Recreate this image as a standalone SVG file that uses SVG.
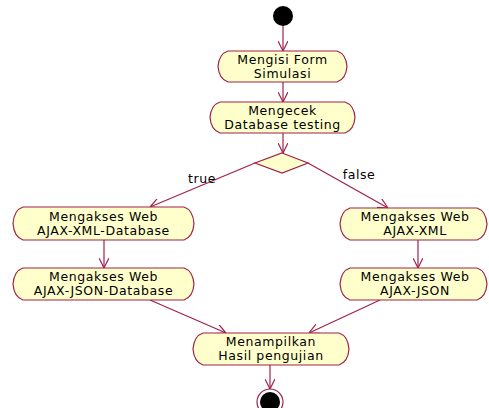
<svg xmlns="http://www.w3.org/2000/svg" width="489" height="408" viewBox="0 0 489 408">
<style>
.node{fill:#ffffcc;stroke:#a0204a;stroke-width:1.2}
.t{font-family:"DejaVu Sans",sans-serif;font-size:12.5px;letter-spacing:0.6px;fill:#000;text-anchor:middle}
.c{stroke:#a0204a;stroke-width:1.2;fill:none;marker-end:url(#ah)}
</style>
<defs>
<marker id="ah" viewBox="0 0 10 10" refX="10" refY="5" markerWidth="10" markerHeight="10" markerUnits="userSpaceOnUse" orient="auto">
<path d="M0,0 L10,5 L0,10" fill="none" stroke="#a0204a" stroke-width="1.2"/>
</marker>
</defs>
<rect width="489" height="408" fill="#fff"/>
<g id="connectors">
<line class="c" x1="283" y1="26" x2="283" y2="51"/>
<line class="c" x1="283" y1="82" x2="283" y2="102"/>
<line class="c" x1="283" y1="133" x2="283" y2="153"/>
<line class="c" x1="255" y1="163" x2="150" y2="207"/>
<line class="c" x1="308" y1="163" x2="388" y2="208"/>
<line class="c" x1="104" y1="240" x2="104" y2="268"/>
<line class="c" x1="418" y1="240" x2="418" y2="268"/>
<line class="c" x1="150" y1="300" x2="226" y2="333"/>
<line class="c" x1="380" y1="300" x2="309" y2="333"/>
<line class="c" x1="270" y1="365" x2="270" y2="389"/>
<text class="t" x="202" y="183">true</text>
<text class="t" x="359" y="179">false</text>
</g>
<g id="start"><circle cx="283" cy="16" r="10" fill="#000"/></g>
<g id="n1">
<path class="node" d="M228,51 H337 Q346,54 347,66.5 Q346,79 337,82 H228 Q219,79 218,66.5 Q219,54 228,51 Z"/>
<text class="t" x="282.5" y="64">Mengisi Form</text>
<text class="t" x="282.5" y="78">Simulasi</text>
</g>
<g id="n2">
<path class="node" d="M220,102 H345 Q354,105 355,117.5 Q354,130 345,133 H220 Q211,130 210,117.5 Q211,105 220,102 Z"/>
<text class="t" x="282.5" y="115">Mengecek</text>
<text class="t" x="282.5" y="129">Database testing</text>
</g>
<g id="decision">
<polygon class="node" points="282,153 308,163 282,173 255,163"/>
</g>
<g id="n3">
<path class="node" d="M23,207 H184 Q193,210 194,223.5 Q193,237 184,240 H23 Q14,237 13,223.5 Q14,210 23,207 Z"/>
<text class="t" x="103.5" y="221">Mengakses Web</text>
<text class="t" x="103.5" y="235">AJAX-XML-Database</text>
</g>
<g id="n4">
<path class="node" d="M350,208 H477 Q486,211 487,224 Q486,237 477,240 H350 Q341,237 340,224 Q341,211 350,208 Z"/>
<text class="t" x="415" y="221">Mengakses Web</text>
<text class="t" x="415" y="235">AJAX-XML</text>
</g>
<g id="n5">
<path class="node" d="M23,268 H184 Q193,271 194,284 Q193,297 184,300 H23 Q14,297 13,284 Q14,271 23,268 Z"/>
<text class="t" x="103.5" y="281">Mengakses Web</text>
<text class="t" x="103.5" y="295">AJAX-JSON-Database</text>
</g>
<g id="n6">
<path class="node" d="M350,268 H477 Q486,271 487,284 Q486,297 477,300 H350 Q341,297 340,284 Q341,271 350,268 Z"/>
<text class="t" x="415" y="281">Mengakses Web</text>
<text class="t" x="415" y="295">AJAX-JSON</text>
</g>
<g id="n7">
<path class="node" d="M203,333 H339 Q348,336 349,349 Q348,362 339,365 H203 Q194,362 193,349 Q194,336 203,333 Z"/>
<text class="t" x="271" y="346">Menampilkan</text>
<text class="t" x="271" y="360">Hasil pengujian</text>
</g>
<g id="end">
<circle cx="270" cy="402" r="13" fill="#fff" stroke="#a0204a" stroke-width="1.2"/>
<circle cx="270" cy="402" r="10" fill="#000"/>
</g>
</svg>
